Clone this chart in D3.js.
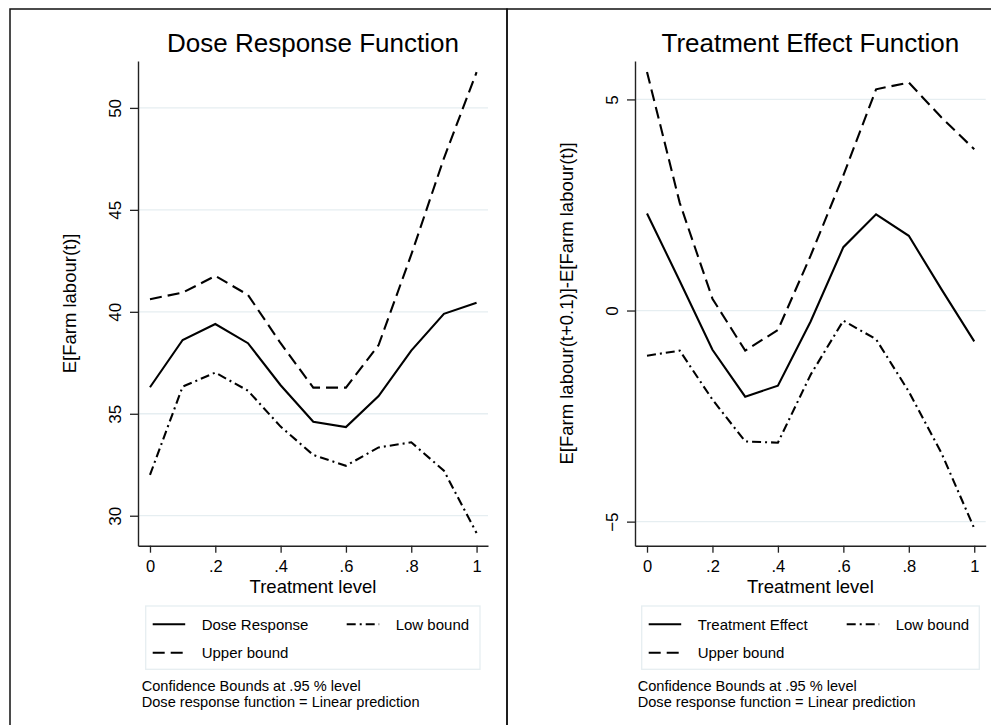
<!DOCTYPE html>
<html>
<head>
<meta charset="utf-8">
<script src="https://cdn.jsdelivr.net/npm/d3@7"></script>
<style>
  html, body { margin: 0; padding: 0; background: #fff; }
  svg { display: block; font-family: Arial, "Liberation Sans", Helvetica, sans-serif; }
</style>
</head>
<body>
<svg id="chart" width="991" height="725"></svg>
<script>
// ---- data ----
const treatment = [0, 0.1, 0.2, 0.3, 0.4, 0.5, 0.6, 0.7, 0.8, 0.9, 1.0];
const doseResponse = [36.30, 38.62, 39.40, 38.46, 36.40, 34.61, 34.35, 35.87, 38.10, 39.90, 40.45];
const doseUpper    = [40.62, 40.94, 41.76, 40.83, 38.46, 36.28, 36.28, 38.37, 42.80, 47.53, 51.75];
const doseLow      = [32.00, 36.33, 37.02, 36.13, 34.37, 32.98, 32.45, 33.35, 33.60, 32.21, 29.15];
const effect       = [2.30, 0.70, -0.93, -2.04, -1.78, -0.26, 1.50, 2.28, 1.77, 0.50, -0.73];
const effectUpper  = [5.65, 2.55, 0.28, -0.95, -0.46, 1.30, 3.20, 5.24, 5.40, 4.57, 3.82];
const effectLow    = [-1.07, -0.95, -2.11, -3.10, -3.13, -1.52, -0.24, -0.68, -1.92, -3.38, -5.16];
const xTicks = [0, 0.2, 0.4, 0.6, 0.8, 1];
const yTicksLeft = [30, 35, 40, 45, 50];
const yTicksRight = [-5, 0, 5];
const notes = ["Confidence Bounds at .95 % level", "Dose response function = Linear prediction"];

const svg = d3.select("#chart");
const FONT = 'Arial, "Liberation Sans", Helvetica, sans-serif';

// panel frames
svg.append("rect").attr("x", 10).attr("y", 9).attr("width", 497).attr("height", 740)
  .attr("fill", "none").attr("stroke", "#111").attr("stroke-width", 1.5);
svg.append("rect").attr("x", 507).attr("y", 9).attr("width", 497).attr("height", 740)
  .attr("fill", "none").attr("stroke", "#111").attr("stroke-width", 1.5);

const fmtX = d => d === 0 ? "0" : d === 1 ? "1" : d3.format(".1f")(d).replace(/^0/, "");

const styles = {
  main: { dash: null },
  upper: { dash: "12,6" },
  low: { dash: "9,4,2,4" }
};

function panel(cfg) {
  const g = svg.append("g");
  const x = d3.scaleLinear().domain([-0.0367, 1.035]).range([cfg.left, cfg.right]);
  const y = d3.scaleLinear().domain(cfg.yDomain).range([545.7, 61]);

  // gridlines
  g.append("g").selectAll("line").data(cfg.yTicks).join("line")
    .attr("x1", cfg.left).attr("x2", cfg.right)
    .attr("y1", d => y(d)).attr("y2", d => y(d))
    .attr("stroke", "#e6eef1").attr("stroke-width", 1.3);

  // x axis
  const xa = g.append("g").attr("transform", `translate(0,${545.7})`)
    .call(d3.axisBottom(x).tickValues(xTicks).tickFormat(fmtX).tickSize(7).tickSizeOuter(0));
  xa.select(".domain").attr("stroke", "#222").attr("stroke-width", 1.4);
  xa.selectAll(".tick line").attr("stroke", "#222").attr("stroke-width", 1.3);
  xa.selectAll(".tick text").attr("font-size", 16.5).attr("font-family", FONT)
    .attr("fill", "#000").attr("dy", null).attr("y", 26);

  // y axis
  const ya = g.append("g").attr("transform", `translate(${cfg.left},0)`)
    .call(d3.axisLeft(y).tickValues(cfg.yTicks).tickFormat(d3.format("d")).tickSize(8).tickSizeOuter(0));
  ya.select(".domain").attr("stroke", "#222").attr("stroke-width", 1.4);
  ya.selectAll(".tick line").attr("stroke", "#222").attr("stroke-width", 1.3);
  ya.selectAll(".tick text").attr("font-size", 17).attr("font-family", FONT).attr("fill", "#000")
    .attr("x", null).attr("dy", null).attr("text-anchor", "middle")
    .attr("transform", `translate(${cfg.tickLabelX - cfg.left},0) rotate(-90)`);

  // lines
  const line = d3.line().x((d, i) => x(treatment[i])).y(d => y(d));
  cfg.series.forEach(s => {
    g.append("path").datum(s.values).attr("d", line)
      .attr("fill", "none").attr("stroke", "#000").attr("stroke-width", 2.1)
      .attr("stroke-linejoin", "miter")
      .attr("stroke-dasharray", styles[s.style].dash);
  });

  // title
  g.append("text").attr("x", (cfg.left + cfg.right) / 2).attr("y", 51.7)
    .attr("text-anchor", "middle").attr("font-size", 26).attr("fill", "#000").text(cfg.title);

  // axis titles
  g.append("text").attr("x", (cfg.left + cfg.right) / 2).attr("y", 592.5)
    .attr("text-anchor", "middle").attr("font-size", 18.5).attr("fill", "#000").text("Treatment level");
  g.append("text").attr("transform", `translate(${cfg.yTitleX},303.4) rotate(-90)`)
    .attr("text-anchor", "middle").attr("font-size", 18.5).attr("fill", "#000").text(cfg.yTitle);

  // legend
  const lg = g.append("g");
  lg.append("rect").attr("x", cfg.legX).attr("y", 606).attr("width", cfg.legW).attr("height", 63.3)
    .attr("fill", "#fff").attr("stroke", "#e6eef1").attr("stroke-width", 1.3);
  const items = [
    { label: cfg.series[0].label, style: "main", col: 0, row: 0 },
    { label: cfg.series[2].label, style: "low", col: 1, row: 0 },
    { label: cfg.series[1].label, style: "upper", col: 0, row: 1 }
  ];
  items.forEach(it => {
    const lx = cfg.legX + (it.col === 0 ? 7 : cfg.col2Off);
    const ly = 624.3 + it.row * 28.4;
    lg.append("line").attr("x1", lx).attr("x2", lx + 32.5).attr("y1", ly).attr("y2", ly)
      .attr("stroke", "#000").attr("stroke-width", 2.1).attr("stroke-dasharray", styles[it.style].dash);
    lg.append("text").attr("x", lx + 49).attr("y", ly + 5.5).attr("font-size", 15).attr("fill", "#000").text(it.label);
  });

  // notes
  notes.forEach((n, i) => {
    g.append("text").attr("x", cfg.legX - 4).attr("y", 691 + i * 15.7)
      .attr("font-size", 14.6).attr("fill", "#000").text(n);
  });
}

panel({
  left: 138, right: 488, yDomain: [28.53, 52.3], yTicks: yTicksLeft,
  tickLabelX: 120.7, yTitleX: 75.5,
  title: "Dose Response Function", yTitle: "E[Farm labour(t)]",
  legX: 145.7, legW: 334.3, col2Off: 201,
  series: [
    { label: "Dose Response", values: doseResponse, style: "main" },
    { label: "Upper bound", values: doseUpper, style: "upper" },
    { label: "Low bound", values: doseLow, style: "low" }
  ]
});

panel({
  left: 635, right: 985.7, yDomain: [-5.57, 5.91], yTicks: yTicksRight,
  tickLabelX: 618.3, yTitleX: 573,
  title: "Treatment Effect Function", yTitle: "E[Farm labour(t+0.1)]-E[Farm labour(t)]",
  legX: 641.7, legW: 337.6, col2Off: 205,
  series: [
    { label: "Treatment Effect", values: effect, style: "main" },
    { label: "Upper bound", values: effectUpper, style: "upper" },
    { label: "Low bound", values: effectLow, style: "low" }
  ]
});
</script>
</body>
</html>
